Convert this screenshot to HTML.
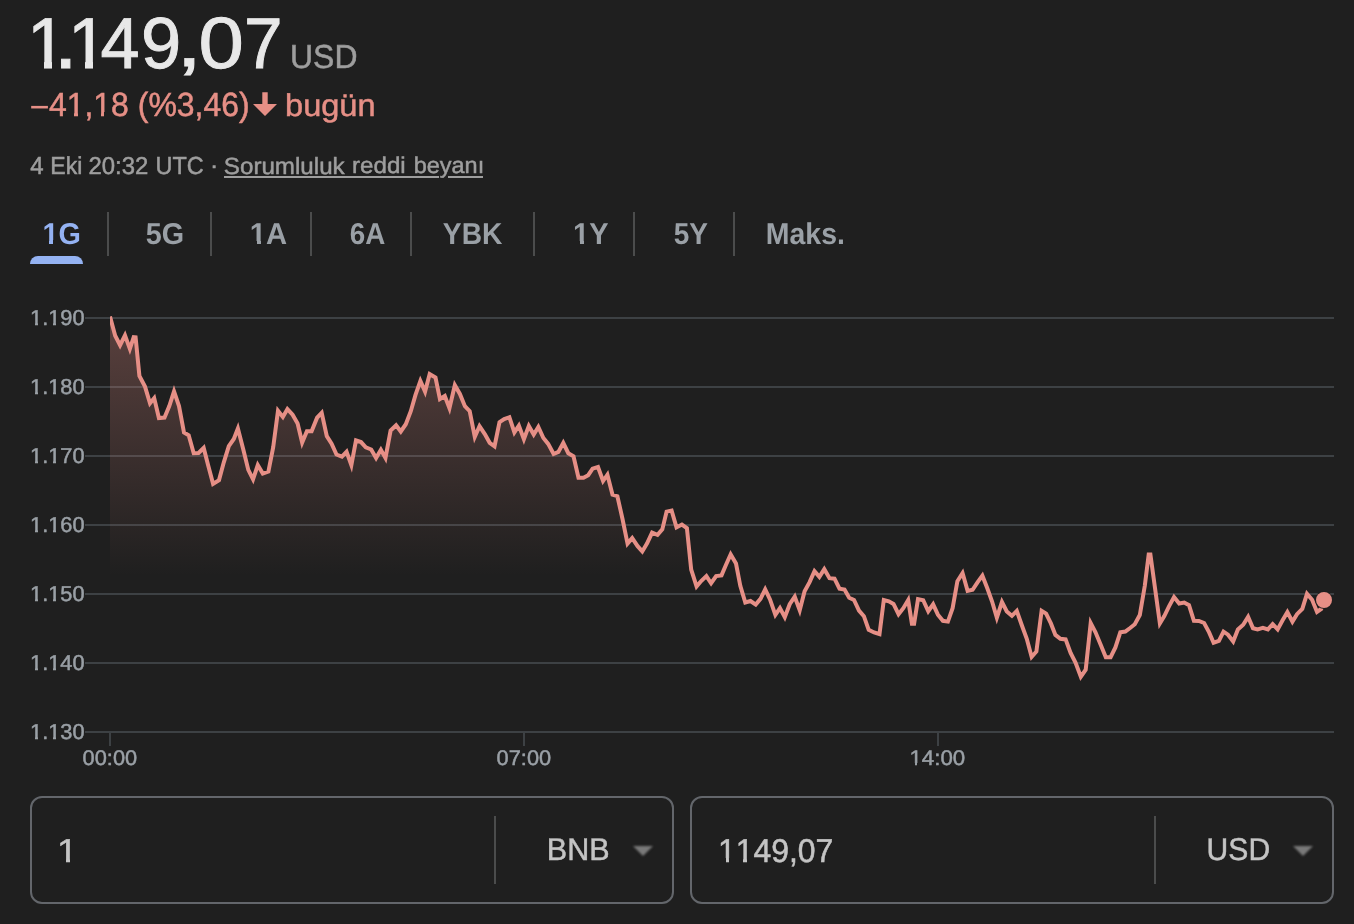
<!DOCTYPE html>
<html lang="tr">
<head>
<meta charset="utf-8">
<title>BNB / USD</title>
<style>
*{margin:0;padding:0;box-sizing:border-box}
html,body{width:1354px;height:924px;overflow:hidden;background:#1f1f1f}
body{position:relative;font-family:"Liberation Sans",Arial,sans-serif;color:#e8e8e8}
.abs,.sep{position:absolute}
.grp{position:absolute;left:0;top:0;width:0;height:0;list-style:none;white-space:nowrap;font-size:0;line-height:0}
a{color:inherit;text-decoration:none}
i{display:block}
.t{position:relative;z-index:2;display:inline-block;width:0;height:0;vertical-align:top;white-space:pre;line-height:1;font-weight:normal;transform-origin:0 0;text-rendering:geometricPrecision;font-kerning:none}
.t.one{z-index:0}
.m{position:absolute;z-index:1;display:block;background:#1f1f1f}
li{display:inline}
#arrow{left:250px;top:90px;width:30px;height:28px}
#ul{position:absolute;left:224px;top:176px;width:259px;height:2px;background:#9e9e9e}
#ulgap{position:absolute;left:439.4px;top:175px;width:8.6px;height:4px;background:#1f1f1f}
.sep{top:212px;width:2px;height:44px;background:#4b4c4c}
#bar{left:30px;top:256px;width:53px;height:8px;background:#94b2f2;border-radius:8px 8px 0 0}
#chart{left:0;top:0;width:1354px;height:790px}
.box{position:absolute;top:796px;width:644px;height:108px;border:2px solid #63666b;border-radius:12px}
.box .vd{position:absolute;left:462px;top:18px;width:2px;height:68px;background:#4b4c4c}
.box .tri{position:absolute;left:601px;top:48px;width:0;height:0;border-left:10px solid transparent;border-right:10px solid transparent;border-top:10px solid #797979;filter:blur(0.8px)}
</style>
</head>
<body>
<div class="grp" id="price"><span class="t one" id="p1a" style="font-size:72px;color:#e8e8e8;transform:matrix(0.9885,0,0,1.0008,27.03,7.74);-webkit-text-stroke:0.9px #e8e8e8">1</span><i class="m" style="left:31.01px;top:62.03px;width:13.44px;height:8.50px"></i><i class="m" style="left:51.68px;top:62.03px;width:12.87px;height:8.50px"></i><span class="t" id="pdot" style="font-size:72px;color:#e8e8e8;transform:matrix(1.1955,0,0,1.1241,53.65,0.06);-webkit-text-stroke:0.9px #e8e8e8">.</span><span class="t one" id="p1b" style="font-size:72px;color:#e8e8e8;transform:matrix(0.9948,0,0,1.0008,67.90,7.74);-webkit-text-stroke:0.9px #e8e8e8">1</span><i class="m" style="left:71.90px;top:62.03px;width:13.53px;height:8.50px"></i><i class="m" style="left:92.70px;top:62.03px;width:12.96px;height:8.50px"></i><span class="t" id="p4" style="font-size:72px;color:#e8e8e8;transform:matrix(0.9737,0,0,1.0008,100.61,7.74);-webkit-text-stroke:0.9px #e8e8e8">4</span><span class="t" id="p9" style="font-size:72px;color:#e8e8e8;transform:matrix(1.0043,0,0,1.0035,140.94,7.54);-webkit-text-stroke:0.9px #e8e8e8">9</span><span class="t" id="pcom" style="font-size:72px;color:#e8e8e8;transform:matrix(1.2927,0,0,0.9855,176.21,7.33);-webkit-text-stroke:0.9px #e8e8e8">,</span><span class="t" id="p0" style="font-size:72px;color:#e8e8e8;transform:matrix(1.1319,0,0,1.0104,198.48,7.39);-webkit-text-stroke:0.9px #e8e8e8">0</span><span class="t" id="p7" style="font-size:72px;color:#e8e8e8;transform:matrix(0.9627,0,0,0.9938,243.89,8.22);-webkit-text-stroke:0.9px #e8e8e8">7</span> <span class="t" id="cur" style="font-size:32px;color:#9e9e9e;transform:matrix(0.9971,0,0,1.0387,290.08,40.09);-webkit-text-stroke:0.5px #9e9e9e">USD</span></div>
<div class="grp" id="change"><span class="t" id="minus" style="font-size:32px;color:#e68f86;transform:matrix(1.0742,0,0,1.1111,29.50,89.26)">−</span><span class="t one" id="chg" style="font-size:32px;color:#e68f86;transform:matrix(0.9985,0,0,1.0500,48.90,87.55);-webkit-text-stroke:0.5px #e68f86">41,18 (%3,46)</span><i class="m" style="left:67.85px;top:112.22px;width:6.59px;height:5.25px"></i><i class="m" style="left:77.78px;top:112.22px;width:6.33px;height:5.25px"></i><i class="m" style="left:94.50px;top:112.22px;width:6.59px;height:5.25px"></i><i class="m" style="left:104.43px;top:112.22px;width:6.33px;height:5.25px"></i> <span class="t" id="today" style="font-size:32px;color:#e68f86;transform:matrix(1.0178,0,0,0.9815,285.02,89.51);-webkit-text-stroke:0.5px #e68f86">bugün</span><svg id="arrow" class="abs" viewBox="250 90 30 28" aria-hidden="true"><path d="M262.3 92.2h5.4V104H277l-12 12-12-12h9.3z" fill="#e68f86"/></svg></div>
<div class="grp" id="meta"><span class="t" id="d4" style="font-size:24px;color:#9e9e9e;transform:matrix(1.0000,0,0,1.0234,30.20,154.37);-webkit-text-stroke:0.5px #9e9e9e">4</span> <span class="t" id="dEki" style="font-size:24px;color:#9e9e9e;transform:matrix(0.9597,0,0,1.0234,50.27,154.37);-webkit-text-stroke:0.5px #9e9e9e">Eki</span> <span class="t" id="dtime" style="font-size:24px;color:#9e9e9e;transform:matrix(0.9964,0,0,1.0109,88.52,154.69);-webkit-text-stroke:0.5px #9e9e9e">20:32</span> <span class="t" id="dutc" style="font-size:24px;color:#9e9e9e;transform:matrix(0.9756,0,0,1.0234,155.47,154.37);-webkit-text-stroke:0.5px #9e9e9e">UTC</span> <span class="t" id="ddot" style="font-size:24px;color:#9e9e9e;transform:matrix(1.0307,0,0,0.9547,209.95,154.63);-webkit-text-stroke:0.5px #9e9e9e">·</span> <a id="disc"><i id="ul"></i><i id="ulgap"></i><span class="t" id="l1" style="font-size:24px;color:#9e9e9e;transform:matrix(1.0064,0,0,0.9718,223.84,155.45);-webkit-text-stroke:0.5px #9e9e9e">Sorumluluk</span> <span class="t" id="l2" style="font-size:24px;color:#9e9e9e;transform:matrix(1.0052,0,0,0.9480,352.03,155.17);-webkit-text-stroke:0.5px #9e9e9e">reddi</span> <span class="t" id="l3" style="font-size:24px;color:#9e9e9e;transform:matrix(0.9789,0,0,0.9483,413.63,155.29);-webkit-text-stroke:0.5px #9e9e9e">beyanı</span></a></div>
<ul class="grp" id="tabs"><li><b class="t one" id="tab0" style="font-size:28px;color:#94b2f2;transform:matrix(1.0282,0,0,1.0753,42.56,219.13);font-weight:bold">1G</b><i class="m" style="left:43.35px;top:240.43px;width:5.92px;height:5.27px"></i><i class="m" style="left:53.24px;top:240.43px;width:5.55px;height:5.27px"></i></li> <li><b class="t" id="tab1" style="font-size:28px;color:#9aa0a6;transform:matrix(1.0275,0,0,1.0753,145.70,219.33);font-weight:bold">5G</b></li> <li><b class="t one" id="tab2" style="font-size:28px;color:#9aa0a6;transform:matrix(1.0446,0,0,1.0753,249.77,219.33);font-weight:bold">1A</b><i class="m" style="left:250.56px;top:240.63px;width:6.02px;height:5.27px"></i><i class="m" style="left:260.62px;top:240.63px;width:5.64px;height:5.27px"></i></li> <li><b class="t" id="tab3" style="font-size:28px;color:#9aa0a6;transform:matrix(0.9924,0,0,1.0753,349.83,219.43);font-weight:bold">6A</b></li> <li><b class="t" id="tab4" style="font-size:28px;color:#9aa0a6;transform:matrix(1.0072,0,0,1.0753,442.86,219.33);font-weight:bold">YBK</b></li> <li><b class="t one" id="tab5" style="font-size:28px;color:#9aa0a6;transform:matrix(1.0333,0,0,1.0753,573.12,219.23);font-weight:bold">1Y</b><i class="m" style="left:573.91px;top:240.53px;width:5.95px;height:5.27px"></i><i class="m" style="left:583.86px;top:240.53px;width:5.58px;height:5.27px"></i></li> <li><b class="t" id="tab6" style="font-size:28px;color:#9aa0a6;transform:matrix(1.0005,0,0,1.0753,673.70,219.23);font-weight:bold">5Y</b></li> <li><b class="t" id="tab7" style="font-size:28px;color:#9aa0a6;transform:matrix(1.0163,0,0,1.0753,765.84,219.23);font-weight:bold">Maks.</b></li></ul>
<div class="sep" style="left:107px"></div>
<div class="sep" style="left:210px"></div>
<div class="sep" style="left:310px"></div>
<div class="sep" style="left:410px"></div>
<div class="sep" style="left:533px"></div>
<div class="sep" style="left:633px"></div>
<div class="sep" style="left:733px"></div>
<div id="bar" class="abs"></div>
<svg id="chart" class="abs" viewBox="0 0 1354 790" aria-hidden="true">
<defs><clipPath id="cp"><rect x="110" y="300" width="1230" height="440"/></clipPath><clipPath id="ca"><rect x="110" y="300" width="1230" height="276"/></clipPath><linearGradient id="g" x1="0" y1="316" x2="0" y2="576" gradientUnits="userSpaceOnUse">
<stop offset="0" stop-color="#e68f86" stop-opacity="0.30"/><stop offset="1" stop-color="#e68f86" stop-opacity="0"/></linearGradient></defs>
<rect x="85" y="317" width="1249" height="2" fill="#3d4144"/>
<rect x="85" y="386" width="1249" height="2" fill="#3d4144"/>
<rect x="85" y="455" width="1249" height="2" fill="#3d4144"/>
<rect x="85" y="524" width="1249" height="2" fill="#3d4144"/>
<rect x="85" y="593" width="1249" height="2" fill="#3d4144"/>
<rect x="85" y="662" width="1249" height="2" fill="#3d4144"/>
<rect x="85" y="731" width="1249" height="2" fill="#3d4144"/>
<rect x="109" y="732" width="2" height="14" fill="#3d4144"/>
<rect x="523" y="732" width="2" height="14" fill="#3d4144"/>
<rect x="937" y="732" width="2" height="14" fill="#3d4144"/>
<path d="M110,316.6 L110.0,316.6 L115.2,335.7 L120.09,345.26 L124.99,335.4 L129.86,348.94 L133.7,337.2 L135.6,337.4 L139.4,375.8 L145.0,386.6 L150.01,403.25 L154.2,398.1 L158.9,418.0 L164.5,417.5 L169.3,406.1 L174.02,391.46 L179.0,406.1 L184.0,432.5 L188.7,435.3 L193.7,453.2 L198.5,453.0 L203.69,447.96 L208.2,465.6 L213.06,483.84 L219.0,480.1 L223.8,462.3 L228.8,446.1 L233.8,439.0 L237.9,428.43 L243.3,449.4 L248.3,469.9 L253.05,479.37 L257.78,465.04 L262.8,473.6 L268.4,471.6 L273.2,447.2 L278.01,410.77 L282.87,416.94 L287.42,409.07 L292.6,414.7 L297.6,423.5 L302.16,442.58 L306.9,431.3 L311.6,431.3 L317.1,417.7 L321.71,412.83 L326.8,436.1 L331.6,443.6 L336.5,454.5 L341.9,456.6 L346.58,451.77 L351.35,465.16 L356.0,440.4 L361.0,442.1 L365.8,447.3 L371.2,449.5 L376.1,458.01 L380.89,449.81 L385.47,457.91 L390.6,430.6 L396.1,425.2 L400.8,431.47 L405.8,424.2 L410.8,411.2 L415.5,394.9 L420.39,380.95 L425.07,391.62 L429.66,374.04 L435.5,377.6 L439.92,399.03 L444.8,396.0 L449.45,408.18 L454.83,385.19 L459.9,393.9 L464.9,406.2 L469.7,411.2 L474.78,436.93 L479.49,426.16 L484.8,434.1 L489.7,442.8 L494.53,446.26 L499.5,422.2 L504.2,419.0 L509.4,417.2 L514.38,432.34 L518.86,425.6 L523.9,439.16 L528.82,425.92 L533.71,434.48 L538.34,426.95 L543.4,438.0 L548.2,443.9 L553.6,454.0 L558.4,451.9 L563.28,442.88 L568.3,453.2 L573.5,456.2 L578.5,477.8 L583.5,477.8 L588.2,475.2 L592.6,468.7 L598.0,467.0 L603.05,481.03 L607.41,474.71 L612.5,494.7 L617.4,496.2 L622.4,518.5 L627.54,543.58 L632.19,538.12 L637.6,546.2 L642.28,551.43 L647.1,543.4 L652.1,532.6 L657.5,534.8 L662.3,529.4 L666.6,511.6 L671.6,510.5 L676.5,527.4 L681.9,524.5 L686.9,528.0 L691.2,569.6 L696.58,586.42 L701.4,580.8 L706.4,576.1 L711.11,583.24 L716.1,576.1 L721.5,575.4 L725.8,565.2 L730.66,554.44 L736.0,563.5 L740.3,585.8 L745.3,602.5 L750.5,601.0 L755.7,604.6 L760.5,598.8 L765.19,589.36 L770.0,599.4 L775.36,614.85 L779.96,608.08 L784.79,617.23 L789.7,604.2 L794.75,596.7 L799.72,610.33 L804.6,591.2 L809.6,582.1 L814.48,571.15 L819.39,576.92 L824.29,569.17 L829.5,578.2 L834.5,578.7 L839.5,588.6 L844.5,589.5 L849.2,597.7 L854.0,599.9 L859.0,610.7 L863.9,616.2 L868.7,629.9 L874.1,632.5 L879.5,634.2 L883.8,600.0 L888.8,601.3 L893.5,603.9 L898.56,614.17 L903.3,608.2 L908.19,600.03 L911.9,623.8 L914.1,623.8 L918.0,599.1 L923.2,600.2 L928.27,611.27 L933.13,604.32 L937.9,614.7 L942.9,620.8 L947.9,621.6 L952.6,608.2 L957.4,581.2 L962.56,573.08 L967.6,590.9 L972.6,589.8 L977.5,582.3 L982.38,575.65 L987.3,588.3 L992.0,601.3 L996.85,617.67 L1001.96,602.01 L1006.8,611.5 L1011.9,615.8 L1016.78,610.94 L1021.9,625.5 L1026.7,638.5 L1031.64,656.97 L1036.4,651.5 L1041.61,610.84 L1046.1,613.6 L1050.9,623.4 L1055.4,634.9 L1060.4,638.8 L1065.6,639.4 L1070.6,652.9 L1075.5,662.6 L1080.83,676.64 L1085.7,669.7 L1090.69,622.99 L1095.5,632.3 L1100.9,645.3 L1105.8,657.2 L1110.6,657.2 L1115.4,647.4 L1120.3,632.3 L1125.3,631.6 L1130.1,628.0 L1134.8,624.3 L1139.8,615.0 L1144.8,585.8 L1148.7,554.4 L1150.4,554.4 L1155.0,587.9 L1159.87,623.45 L1164.3,616.1 L1169.0,606.3 L1174.04,597.02 L1179.2,603.5 L1184.2,602.6 L1189.0,605.2 L1193.9,620.8 L1198.9,621.0 L1204.1,623.0 L1209.1,632.4 L1213.6,642.7 L1218.9,640.8 L1223.5,631.7 L1228.0,634.7 L1233.18,641.44 L1237.9,629.4 L1243.2,624.8 L1248.12,616.91 L1253.0,628.2 L1257.6,629.4 L1262.9,627.9 L1267.9,629.4 L1272.7,624.1 L1277.67,629.46 L1282.6,620.3 L1287.38,612.12 L1292.43,621.74 L1297.0,614.2 L1302.3,608.9 L1306.99,593.89 L1312.1,599.8 L1317.01,611.95 L1321.2,608.9 L1323.9,600.6 L1323.9,576 L110,576 Z" fill="url(#g)" clip-path="url(#ca)"/>
<polyline points="110.0,316.6 115.2,335.7 120.09,345.26 124.99,335.4 129.86,348.94 133.7,337.2 135.6,337.4 139.4,375.8 145.0,386.6 150.01,403.25 154.2,398.1 158.9,418.0 164.5,417.5 169.3,406.1 174.02,391.46 179.0,406.1 184.0,432.5 188.7,435.3 193.7,453.2 198.5,453.0 203.69,447.96 208.2,465.6 213.06,483.84 219.0,480.1 223.8,462.3 228.8,446.1 233.8,439.0 237.9,428.43 243.3,449.4 248.3,469.9 253.05,479.37 257.78,465.04 262.8,473.6 268.4,471.6 273.2,447.2 278.01,410.77 282.87,416.94 287.42,409.07 292.6,414.7 297.6,423.5 302.16,442.58 306.9,431.3 311.6,431.3 317.1,417.7 321.71,412.83 326.8,436.1 331.6,443.6 336.5,454.5 341.9,456.6 346.58,451.77 351.35,465.16 356.0,440.4 361.0,442.1 365.8,447.3 371.2,449.5 376.1,458.01 380.89,449.81 385.47,457.91 390.6,430.6 396.1,425.2 400.8,431.47 405.8,424.2 410.8,411.2 415.5,394.9 420.39,380.95 425.07,391.62 429.66,374.04 435.5,377.6 439.92,399.03 444.8,396.0 449.45,408.18 454.83,385.19 459.9,393.9 464.9,406.2 469.7,411.2 474.78,436.93 479.49,426.16 484.8,434.1 489.7,442.8 494.53,446.26 499.5,422.2 504.2,419.0 509.4,417.2 514.38,432.34 518.86,425.6 523.9,439.16 528.82,425.92 533.71,434.48 538.34,426.95 543.4,438.0 548.2,443.9 553.6,454.0 558.4,451.9 563.28,442.88 568.3,453.2 573.5,456.2 578.5,477.8 583.5,477.8 588.2,475.2 592.6,468.7 598.0,467.0 603.05,481.03 607.41,474.71 612.5,494.7 617.4,496.2 622.4,518.5 627.54,543.58 632.19,538.12 637.6,546.2 642.28,551.43 647.1,543.4 652.1,532.6 657.5,534.8 662.3,529.4 666.6,511.6 671.6,510.5 676.5,527.4 681.9,524.5 686.9,528.0 691.2,569.6 696.58,586.42 701.4,580.8 706.4,576.1 711.11,583.24 716.1,576.1 721.5,575.4 725.8,565.2 730.66,554.44 736.0,563.5 740.3,585.8 745.3,602.5 750.5,601.0 755.7,604.6 760.5,598.8 765.19,589.36 770.0,599.4 775.36,614.85 779.96,608.08 784.79,617.23 789.7,604.2 794.75,596.7 799.72,610.33 804.6,591.2 809.6,582.1 814.48,571.15 819.39,576.92 824.29,569.17 829.5,578.2 834.5,578.7 839.5,588.6 844.5,589.5 849.2,597.7 854.0,599.9 859.0,610.7 863.9,616.2 868.7,629.9 874.1,632.5 879.5,634.2 883.8,600.0 888.8,601.3 893.5,603.9 898.56,614.17 903.3,608.2 908.19,600.03 911.9,623.8 914.1,623.8 918.0,599.1 923.2,600.2 928.27,611.27 933.13,604.32 937.9,614.7 942.9,620.8 947.9,621.6 952.6,608.2 957.4,581.2 962.56,573.08 967.6,590.9 972.6,589.8 977.5,582.3 982.38,575.65 987.3,588.3 992.0,601.3 996.85,617.67 1001.96,602.01 1006.8,611.5 1011.9,615.8 1016.78,610.94 1021.9,625.5 1026.7,638.5 1031.64,656.97 1036.4,651.5 1041.61,610.84 1046.1,613.6 1050.9,623.4 1055.4,634.9 1060.4,638.8 1065.6,639.4 1070.6,652.9 1075.5,662.6 1080.83,676.64 1085.7,669.7 1090.69,622.99 1095.5,632.3 1100.9,645.3 1105.8,657.2 1110.6,657.2 1115.4,647.4 1120.3,632.3 1125.3,631.6 1130.1,628.0 1134.8,624.3 1139.8,615.0 1144.8,585.8 1148.7,554.4 1150.4,554.4 1155.0,587.9 1159.87,623.45 1164.3,616.1 1169.0,606.3 1174.04,597.02 1179.2,603.5 1184.2,602.6 1189.0,605.2 1193.9,620.8 1198.9,621.0 1204.1,623.0 1209.1,632.4 1213.6,642.7 1218.9,640.8 1223.5,631.7 1228.0,634.7 1233.18,641.44 1237.9,629.4 1243.2,624.8 1248.12,616.91 1253.0,628.2 1257.6,629.4 1262.9,627.9 1267.9,629.4 1272.7,624.1 1277.67,629.46 1282.6,620.3 1287.38,612.12 1292.43,621.74 1297.0,614.2 1302.3,608.9 1306.99,593.89 1312.1,599.8 1317.01,611.95 1321.2,608.9 1323.9,600.6" fill="none" stroke="#e68f86" stroke-width="4" stroke-linejoin="miter" stroke-miterlimit="10" stroke-linecap="butt" clip-path="url(#cp)"/>
<circle cx="1324" cy="600" r="9" fill="#1f1f1f"/>
<circle cx="1324" cy="600" r="8" fill="#e68f86"/>
</svg>
<ul class="grp" id="yaxis"><li><span class="t one" id="y0" style="font-size:22px;color:#9aa0a6;transform:matrix(0.9907,0,0,0.9835,30.02,307.79);-webkit-text-stroke:0.5px #9aa0a6">1.190</span><i class="m" style="left:30.44px;top:323.22px;width:4.81px;height:4.31px"></i><i class="m" style="left:37.68px;top:323.22px;width:4.63px;height:4.31px"></i><i class="m" style="left:48.62px;top:323.22px;width:4.81px;height:4.31px"></i><i class="m" style="left:55.86px;top:323.22px;width:4.63px;height:4.31px"></i></li> <li><span class="t one" id="y1" style="font-size:22px;color:#9aa0a6;transform:matrix(0.9907,0,0,0.9835,30.02,376.79);-webkit-text-stroke:0.5px #9aa0a6">1.180</span><i class="m" style="left:30.44px;top:392.22px;width:4.81px;height:4.31px"></i><i class="m" style="left:37.68px;top:392.22px;width:4.63px;height:4.31px"></i><i class="m" style="left:48.62px;top:392.22px;width:4.81px;height:4.31px"></i><i class="m" style="left:55.86px;top:392.22px;width:4.63px;height:4.31px"></i></li> <li><span class="t one" id="y2" style="font-size:22px;color:#9aa0a6;transform:matrix(0.9907,0,0,0.9835,30.02,445.79);-webkit-text-stroke:0.5px #9aa0a6">1.170</span><i class="m" style="left:30.44px;top:461.22px;width:4.81px;height:4.31px"></i><i class="m" style="left:37.68px;top:461.22px;width:4.63px;height:4.31px"></i><i class="m" style="left:48.62px;top:461.22px;width:4.81px;height:4.31px"></i><i class="m" style="left:55.86px;top:461.22px;width:4.63px;height:4.31px"></i></li> <li><span class="t one" id="y3" style="font-size:22px;color:#9aa0a6;transform:matrix(0.9907,0,0,0.9835,30.02,514.79);-webkit-text-stroke:0.5px #9aa0a6">1.160</span><i class="m" style="left:30.44px;top:530.22px;width:4.81px;height:4.31px"></i><i class="m" style="left:37.68px;top:530.22px;width:4.63px;height:4.31px"></i><i class="m" style="left:48.62px;top:530.22px;width:4.81px;height:4.31px"></i><i class="m" style="left:55.86px;top:530.22px;width:4.63px;height:4.31px"></i></li> <li><span class="t one" id="y4" style="font-size:22px;color:#9aa0a6;transform:matrix(0.9907,0,0,0.9835,30.02,583.79);-webkit-text-stroke:0.5px #9aa0a6">1.150</span><i class="m" style="left:30.44px;top:599.22px;width:4.81px;height:4.31px"></i><i class="m" style="left:37.68px;top:599.22px;width:4.63px;height:4.31px"></i><i class="m" style="left:48.62px;top:599.22px;width:4.81px;height:4.31px"></i><i class="m" style="left:55.86px;top:599.22px;width:4.63px;height:4.31px"></i></li> <li><span class="t one" id="y5" style="font-size:22px;color:#9aa0a6;transform:matrix(0.9907,0,0,0.9835,30.02,652.79);-webkit-text-stroke:0.5px #9aa0a6">1.140</span><i class="m" style="left:30.44px;top:668.22px;width:4.81px;height:4.31px"></i><i class="m" style="left:37.68px;top:668.22px;width:4.63px;height:4.31px"></i><i class="m" style="left:48.62px;top:668.22px;width:4.81px;height:4.31px"></i><i class="m" style="left:55.86px;top:668.22px;width:4.63px;height:4.31px"></i></li> <li><span class="t one" id="y6" style="font-size:22px;color:#9aa0a6;transform:matrix(0.9907,0,0,0.9835,30.02,721.79);-webkit-text-stroke:0.5px #9aa0a6">1.130</span><i class="m" style="left:30.44px;top:737.22px;width:4.81px;height:4.31px"></i><i class="m" style="left:37.68px;top:737.22px;width:4.63px;height:4.31px"></i><i class="m" style="left:48.62px;top:737.22px;width:4.81px;height:4.31px"></i><i class="m" style="left:55.86px;top:737.22px;width:4.63px;height:4.31px"></i></li></ul>
<ul class="grp" id="xaxis"><li><span class="t" id="x0" style="font-size:22px;color:#9aa0a6;transform:matrix(0.9903,0,0,0.9591,82.62,748.02);-webkit-text-stroke:0.5px #9aa0a6">00:00</span></li> <li><span class="t" id="x1" style="font-size:22px;color:#9aa0a6;transform:matrix(0.9903,0,0,0.9591,496.62,748.02);-webkit-text-stroke:0.5px #9aa0a6">07:00</span></li> <li><span class="t one" id="x2" style="font-size:22px;color:#9aa0a6;transform:matrix(1.0130,0,0,0.9590,909.40,747.83);-webkit-text-stroke:0.5px #9aa0a6">14:00</span><i class="m" style="left:909.83px;top:762.85px;width:4.91px;height:4.26px"></i><i class="m" style="left:917.23px;top:762.85px;width:4.73px;height:4.26px"></i></li></ul>
<div class="box" style="left:30px"><div class="vd"></div><div class="tri"></div></div>
<div class="box" style="left:690px"><div class="vd"></div><div class="tri"></div></div>
<div class="grp" id="conv"><span class="t one" id="in1" style="font-size:32px;color:#c4c4c4;transform:matrix(1.1549,0,0,1.0278,57.00,834.12);-webkit-text-stroke:0.5px #c4c4c4">1</span><i class="m" style="left:58.36px;top:858.24px;width:7.62px;height:5.18px"></i><i class="m" style="left:69.85px;top:858.24px;width:7.33px;height:5.18px"></i> <span class="t" id="sel1" style="font-size:32px;color:#c4c4c4;transform:matrix(0.9544,0,0,0.9823,546.77,832.98);-webkit-text-stroke:0.5px #c4c4c4">BNB</span> <span class="t one" id="in2" style="font-size:32px;color:#c4c4c4;transform:matrix(0.9975,0,0,1.0278,717.94,834.12);-webkit-text-stroke:0.5px #c4c4c4">1149,07</span><i class="m" style="left:719.12px;top:858.24px;width:6.58px;height:5.18px"></i><i class="m" style="left:729.04px;top:858.24px;width:6.33px;height:5.18px"></i><i class="m" style="left:736.87px;top:858.24px;width:6.58px;height:5.18px"></i><i class="m" style="left:746.80px;top:858.24px;width:6.33px;height:5.18px"></i> <span class="t" id="sel2" style="font-size:32px;color:#c4c4c4;transform:matrix(0.9395,0,0,0.9823,1206.62,833.13);-webkit-text-stroke:0.5px #c4c4c4">USD</span></div>
</body>
</html>
